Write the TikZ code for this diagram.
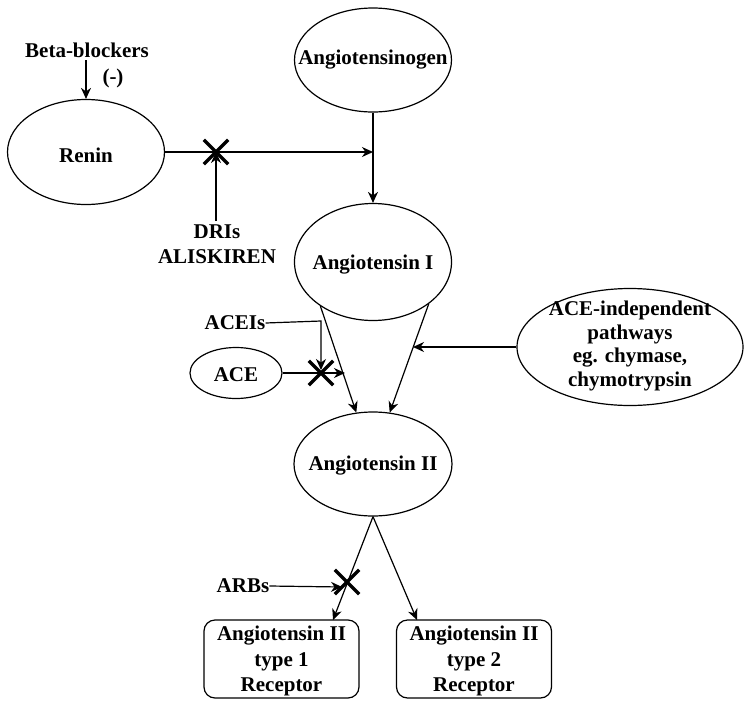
\documentclass[tikz,border=0pt]{standalone}
\usepackage{fontspec}
\setmainfont{Liberation Serif}
\usetikzlibrary{arrows.meta,shapes.geometric,shapes.misc}
\tikzset{
  ell/.style={draw, ellipse, line width=1.2pt, inner sep=0pt},
  txt/.style={font=\bfseries\fontsize{21}{24.5}\selectfont, align=center, inner sep=0pt},
  rbox/.style={draw, rounded corners=11pt, line width=1.2pt, minimum width=155pt, minimum height=78pt, inner sep=0pt},
  arr/.style={line width=1.2pt, -{Stealth[length=11pt,width=10pt,inset=3.5pt]}},
  xmark/.style={draw, cross out, line width=3.3pt, minimum size=21pt, inner sep=0pt}
}
\begin{document}
\begin{tikzpicture}[x=1pt,y=-1pt]
\useasboundingbox (0,0) rectangle (745,705);
% ellipses
\node[ell, minimum width=157pt, minimum height=104pt] (agen) at (373,60) {};
\node[txt] at (agen) {Angiotensinogen};
\node[ell, minimum width=157pt, minimum height=105pt] (renin) at (86,152) {};
\node[txt] at (86,155) {Renin};
\node[ell, minimum width=157pt, minimum height=117pt] (ang1) at (373,262) {};
\node[txt] at (373,265) {Angiotensin I};
\node[ell, minimum width=158pt, minimum height=104pt] (ang2) at (373,464) {};
\node[txt] at (373,466) {Angiotensin II};
\node[ell, minimum width=92pt, minimum height=51pt] (ace) at (236,373) {};
\node[txt] at (236,375) {ACE};
\node[ell, minimum width=226pt, minimum height=117pt] (indep) at (630,347) {};
\node[txt, font=\bfseries\fontsize{21}{23.5}\selectfont] at (630,346) {ACE-independent\\pathways\\eg. chymase,\\chymotrypsin};
% boxes
\node[rbox] (r1) at (281.5,659) {};
\node[txt, font=\bfseries\fontsize{21}{25.5}\selectfont] at (281.5,661) {Angiotensin II\\type 1\\Receptor};
\node[rbox] (r2) at (474,659) {};
\node[txt, font=\bfseries\fontsize{21}{25.5}\selectfont] at (474,661) {Angiotensin II\\type 2\\Receptor};
% labels
\node[txt] (beta) at (87,50) {Beta-blockers};
\node[txt] (minus) at (113,78) {(-)};
\node[txt] (dri) at (217,244) {DRIs\\ALISKIREN};
\node[txt] (acei) at (235,323) {ACEIs};
\node[txt] (arb) at (243,586) {ARBs};
% coordinates
\coordinate (j1) at (373,152);
\coordinate (aceend) at (345,373);
\coordinate (indend) at (413,347);
\coordinate (acebend) at (321,321);
\coordinate (aceitip) at (321,370);
\coordinate (arbend) at (342,587);
\coordinate (t1) at (333,620);
\coordinate (t2) at (417,620);
% X marks
\node[xmark] (x1) at (216,152) {};
\node[xmark] (x2) at (321,373) {};
\node[xmark] (x3) at (347,582) {};
% connectors
\draw[arr] (86,60) -- (renin.north);
\draw[arr] (renin.east) -- (j1);
\draw[arr] (agen.south) -- (ang1.north);
\draw[arr] (216,221) -- (x1.center);
\draw[arr] (ang1.220) -- (ang2.108);
\draw[arr] (ang1.323) -- (ang2.72);
\draw[arr] (acei.east) -- (acebend) -- (aceitip);
\draw[arr] (ace.east) -- (aceend);
\draw[arr] (indep.west) -- (indend);
\draw[arr] (ang2.south) -- (t1);
\draw[arr] (ang2.south) -- (t2);
\draw[arr] (arb.east) -- (arbend);
\end{tikzpicture}
\end{document}
